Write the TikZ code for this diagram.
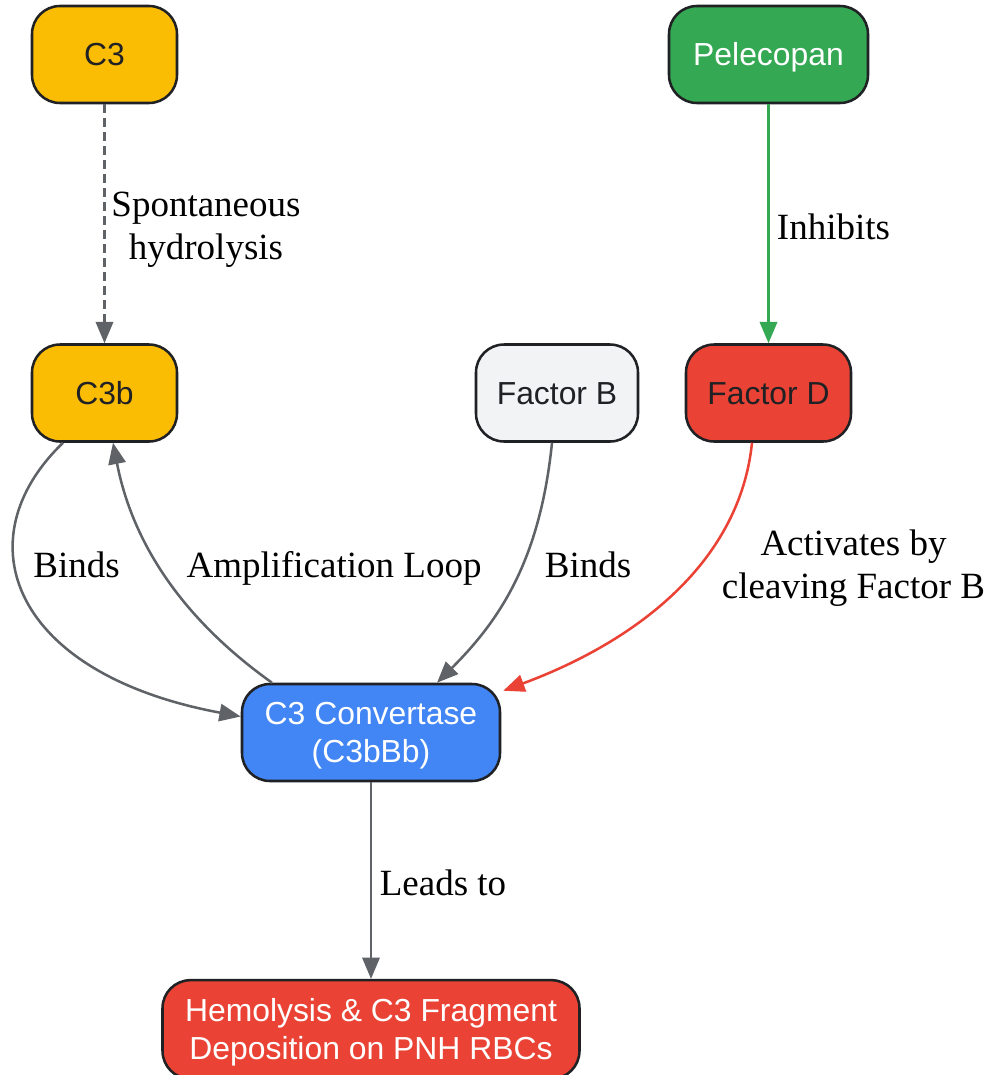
\documentclass[tikz,border=0pt]{standalone}
\usepackage{fontspec}
\setmainfont{Liberation Serif}
\setsansfont{Liberation Sans}
\usetikzlibrary{arrows.meta,calc}
\definecolor{cyellow}{HTML}{FBBC04}
\definecolor{cgreen}{HTML}{34A853}
\definecolor{cred}{HTML}{EA4335}
\definecolor{cgrey}{HTML}{F1F3F4}
\definecolor{cblue}{HTML}{4285F4}
\definecolor{cdark}{HTML}{202124}
\definecolor{cedge}{HTML}{5F6368}
\tikzset{
  box/.style={draw=cdark, line width=1.9pt, rounded corners=21pt, inner sep=0pt,
    minimum height=72.75pt, font=\sffamily\fontsize{23.9}{28.5}\selectfont,
    align=center},
  one/.style={text height=17.1pt, text depth=0pt},
  two/.style={text height=45.6pt, text depth=0pt},
  edge/.style={draw=cedge, line width=1.9pt, -{Triangle[length=16pt,width=13pt]}},
  gedge/.style={edge, draw=cgreen, -{Triangle[length=16pt,width=13pt,fill=cgreen]}},
  redge/.style={edge, draw=cred, -{Triangle[length=16pt,width=13pt,fill=cred]}},
  lab/.style={font=\rmfamily\fontsize{27.75}{32.25}\selectfont, align=center, inner sep=0pt, anchor=base, text=black}
}
\begin{document}
\begin{tikzpicture}[x=0.75pt, y=-0.75pt]
\useasboundingbox (0,0) rectangle (989,1075);
\clip (0,0) rectangle (989,1075);
% nodes
\node[box, one, fill=cyellow, text=cdark, minimum width=108.75pt] (c3) at (104.5,54.5) {C3};
\node[box, one, fill=cgreen, text=white, minimum width=149.25pt] (pel) at (768.5,54.5) {Pelecopan};
\node[box, one, fill=cyellow, text=cdark, minimum width=108.75pt] (c3b) at (104.5,393) {C3b};
\node[box, one, fill=cgrey, text=cdark, minimum width=121.5pt] (fb) at (557,393) {Factor B};
\node[box, one, fill=cred, text=cdark, minimum width=123.75pt] (fd) at (768.5,393) {Factor D};
\node[box, two, fill=cblue, text=white, minimum width=193.5pt] (conv) at (371,732.5) {C3 Convertase\\(C3bBb)};
\node[box, two, fill=cred, text=white, minimum width=312.75pt, minimum height=74pt] (hem) at (371,1029.5) {Hemolysis \& C3 Fragment\\Deposition on PNH RBCs};
% edges
\draw[edge, dash pattern=on 6.75pt off 3.75pt] (c3) -- (c3b);
\draw[gedge] (pel) -- (fd);
\draw[edge] ($(c3b.south)+(-41.5,0)$) .. controls (-38,540) and (12,674) .. ($(conv.west)+(0,-16)$);
\draw[edge] ($(conv.north)+(-99,0)$) .. controls (170,610) and (130,530) .. ($(c3b.south)+(8.5,0)$);
\draw[edge] ($(fb.south)+(-5,0)$) .. controls (540,560) and (500,620) .. ($(conv.north)+(66,0)$);
\draw[redge] ($(fd.south)+(-16.5,0)$) .. controls (740,560) and (640,640) .. ($(conv.north east)+(2,8)$);
\draw[edge] (conv) -- (hem);
% labels
\node[lab] (l1) at (206,259) {Spontaneous\\hydrolysis};
\node[lab] (l2) at (833.5,239) {Inhibits};
\node[lab] (l3) at (76.5,577) {Binds};
\node[lab] (l4) at (334,577) {Amplification Loop};
\node[lab] (l5) at (588,577) {Binds};
\node[lab] (l6) at (853.5,598) {Activates by\\cleaving Factor B};
\node[lab] (l7) at (443,895) {Leads to};
\end{tikzpicture}
\end{document}
